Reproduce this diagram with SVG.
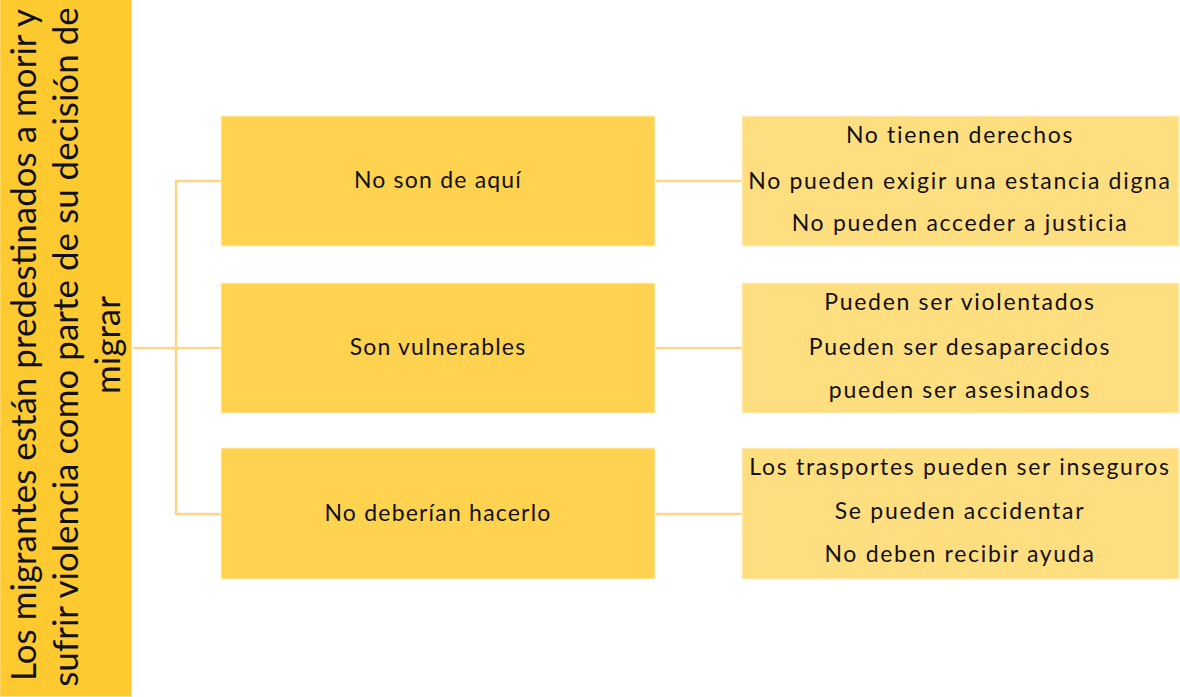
<svg xmlns="http://www.w3.org/2000/svg" width="1180" height="697" viewBox="0 0 1180 697">
<style>
.bar{fill:#FFCA2F;stroke:#FFE08A;stroke-width:1}
.mid{fill:#FFD34F;stroke:#FFEFC0;stroke-width:1}
.det{fill:#FFDE80;stroke:#FFF2CC;stroke-width:1}
.conn{stroke:#FFD58A;stroke-width:2.5;fill:none}
text{font-family:Lato,"Liberation Sans",sans-serif;fill:#111;text-anchor:middle}
.t{font-size:23px;letter-spacing:1.2px}
.r{font-size:23px;letter-spacing:1.7px}
.big{font-size:35px}
</style>
<rect width="1180" height="697" fill="#fff"/>
<g id="connectors">
<line class="conn" x1="133" y1="348" x2="221" y2="348"/>
<polyline class="conn" points="221,181 176,181 176,514 221,514"/>
<line class="conn" x1="656" y1="181" x2="742" y2="181"/>
<line class="conn" x1="656" y1="348" x2="742" y2="348"/>
<line class="conn" x1="656" y1="514" x2="742" y2="514"/>
</g>
<g id="root">
<rect class="bar" x="0" y="-1" width="131.5" height="697.5"/>
<text class="big" transform="translate(36,345) rotate(-90)">Los migrantes están predestinados a morir y</text>
<text class="big" transform="translate(78,347) rotate(-90)">sufrir violencia como parte de su decisión de</text>
<text class="big" transform="translate(120,345) rotate(-90)">migrar</text>
</g>
<g id="n1"><rect class="mid" x="221" y="116" width="434" height="130"/><text class="t" x="438" y="188">No son de aquí</text></g>
<g id="n2"><rect class="mid" x="221" y="283" width="434" height="130"/><text class="t" x="438" y="355">Son vulnerables</text></g>
<g id="n3"><rect class="mid" x="221" y="448" width="434" height="131"/><text class="t" x="438" y="521">No deberían hacerlo</text></g>
<g id="d1"><rect class="det" x="742" y="116" width="437" height="130"/>
<text class="r" x="960" y="143">No tienen derechos</text>
<text class="r" x="960" y="189">No pueden exigir una estancia digna</text>
<text class="r" x="960" y="231">No pueden acceder a justicia</text></g>
<g id="d2"><rect class="det" x="742" y="283" width="437" height="130"/>
<text class="r" x="960" y="310">Pueden ser violentados</text>
<text class="r" x="960" y="355">Pueden ser desaparecidos</text>
<text class="r" x="960" y="398">pueden ser asesinados</text></g>
<g id="d3"><rect class="det" x="742" y="448" width="437" height="131"/>
<text class="r" x="960" y="475">Los trasportes pueden ser inseguros</text>
<text class="r" x="960" y="519">Se pueden accidentar</text>
<text class="r" x="960" y="562">No deben recibir ayuda</text></g>
</svg>
